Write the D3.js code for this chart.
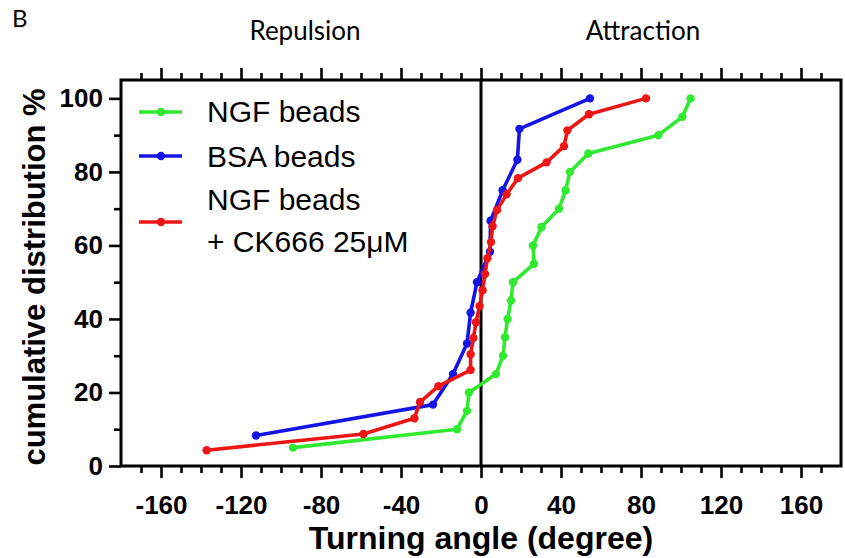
<!DOCTYPE html>
<html>
<head>
<meta charset="utf-8">
<script src="https://cdn.jsdelivr.net/npm/d3@7"></script>
<style>
    body { margin: 0; background: #fff; }
    svg { display: block; }
    .tick text { font-family: "Liberation Sans", Arial, sans-serif; font-weight: bold; font-size: 26px; fill: #000; }
</style>
</head>
<body>
<div id="chart"></div>
<script>
let width = 845;
let height = 558;
let margin = ({top: 80, right: 4, bottom: 92, left: 121});

// cumulative distribution (%) vs turning angle (degree)
let ngfAngle = [-94, -12, -7, -6, 7.5, 11, 12, 13.3, 15, 16, 26.5, 26, 30.3, 39, 42.3, 44.5, 53.7, 88.7, 100.7, 104.8];
let ngfPct = [5, 10, 15, 20, 25, 30, 35, 40, 45, 50, 55, 60, 65, 70, 75, 80, 85, 90, 95, 100];

let bsaAngle = [-112.5, -24, -14, -7, -5.2, -2, 4.5, 4.8, 10.8, 18.2, 19.2, 54.5];
let bsaPct = [8.3, 16.7, 25, 33.3, 41.7, 50, 58.3, 66.7, 75, 83.3, 91.7, 100];

let ckAngle = [-137.2, -58.8, -33.3, -30.5, -21.3, -5.2, -5.2, -3.8, -2.5, -0.7, 0.8, 2, 3.2, 5, 5.8, 8, 12.8, 18.5, 32.8, 41.5, 43.2, 54, 82.5];
let ckPct = [4.3, 8.7, 13, 17.4, 21.7, 26.1, 30.4, 34.8, 39.1, 43.5, 47.8, 52.2, 56.5, 60.9, 65.2, 69.6, 73.9, 78.3, 82.6, 87, 91.3, 95.7, 100];

let seriesNames = ["NGF beads", "BSA beads", "NGF beads\n+ CK666 25\u03bcM"];
let seriesColors = ["#2fea2f", "#1414e6", "#ee1515"];

let xMajor = [-160, -120, -80, -40, 0, 40, 80, 120, 160];
let xMinor = [-170, -150, -140, -130, -110, -100, -90, -70, -60, -50, -30, -20, -10, 10, 20, 30, 50, 60, 70, 90, 100, 110, 130, 140, 150, 170];
let yMajor = [0, 20, 40, 60, 80, 100];
let yMinor = [10, 30, 50, 70, 90];

let series = [
    {name: seriesNames[0], color: seriesColors[0], values: ngfAngle.map((a, i) => ({a: a, p: ngfPct[i]}))},
    {name: seriesNames[1], color: seriesColors[1], values: bsaAngle.map((a, i) => ({a: a, p: bsaPct[i]}))},
    {name: seriesNames[2], color: seriesColors[2], values: ckAngle.map((a, i) => ({a: a, p: ckPct[i]}))}
];

let x = d3.scaleLinear()
    .domain([-180, 180])
    .range([margin.left, width - margin.right]);
let y = d3.scaleLinear()
    .domain([0, 105])
    .range([height - margin.bottom, margin.top]);

let svg = d3.select("#chart")
    .append("svg")
    .attr("width", width)
    .attr("height", height);

// axes
let axisStyle = g => g
    .call(g => g.select(".domain").remove())
    .call(g => g.selectAll(".tick line").attr("stroke", "#000").attr("stroke-width", 2.6));

svg.append("g")
    .attr("transform", `translate(0,${y(0)})`)
    .call(d3.axisBottom(x).tickValues(xMajor).tickSize(12).tickPadding(18).tickFormat(d => String(d)))
    .call(axisStyle);
svg.append("g")
    .attr("transform", `translate(0,${y(0)})`)
    .call(d3.axisBottom(x).tickValues(xMinor).tickSize(7).tickFormat(""))
    .call(axisStyle);
svg.append("g")
    .attr("transform", `translate(0,${y(105)})`)
    .call(d3.axisTop(x).tickValues(xMajor).tickSize(12).tickFormat(""))
    .call(axisStyle);
svg.append("g")
    .attr("transform", `translate(0,${y(105)})`)
    .call(d3.axisTop(x).tickValues(xMinor).tickSize(7).tickFormat(""))
    .call(axisStyle);
svg.append("g")
    .attr("transform", `translate(${x(-180)},0)`)
    .call(d3.axisLeft(y).tickValues(yMajor).tickSize(12).tickPadding(6).tickFormat(d => String(d)))
    .call(axisStyle);
svg.append("g")
    .attr("transform", `translate(${x(-180)},0)`)
    .call(d3.axisLeft(y).tickValues(yMinor).tickSize(7).tickFormat(""))
    .call(axisStyle);

// frame and zero line
svg.append("rect")
    .attr("x", x(-180))
    .attr("y", y(105))
    .attr("width", x(180) - x(-180))
    .attr("height", y(0) - y(105))
    .attr("fill", "none")
    .attr("stroke", "#000")
    .attr("stroke-width", 3);
svg.append("line")
    .attr("x1", x(0)).attr("x2", x(0))
    .attr("y1", y(105)).attr("y2", y(0))
    .attr("stroke", "#000")
    .attr("stroke-width", 3);

// series
let line = d3.line().x(d => x(d.a)).y(d => y(d.p));

let sg = svg.append("g")
    .selectAll("g")
    .data(series)
    .join("g");
sg.append("path")
    .attr("d", d => line(d.values))
    .attr("fill", "none")
    .attr("stroke", d => d.color)
    .attr("stroke-width", 3.6)
    .attr("stroke-linejoin", "round");
sg.selectAll("circle")
    .data(d => d.values.map(v => ({a: v.a, p: v.p, color: d.color})))
    .join("circle")
    .attr("cx", d => x(d.a))
    .attr("cy", d => y(d.p))
    .attr("r", 4.2)
    .attr("fill", d => d.color);

// legend
let legendY = [112, 156, 222];
let legendTextY = [[122], [167], [210, 252]];
let legend = svg.append("g")
    .selectAll("g")
    .data(series)
    .join("g");
legend.append("line")
    .attr("x1", 139).attr("x2", 182)
    .attr("y1", (d, i) => legendY[i]).attr("y2", (d, i) => legendY[i])
    .attr("stroke", d => d.color)
    .attr("stroke-width", 3.6);
legend.append("circle")
    .attr("cx", 161)
    .attr("cy", (d, i) => legendY[i])
    .attr("r", 4.2)
    .attr("fill", d => d.color);
legend.append("text")
    .attr("font-family", "Liberation Sans, Arial, sans-serif")
    .attr("font-size", 30)
    .attr("fill", "#000")
    .each(function(d, i) {
        d3.select(this).selectAll("tspan")
            .data(d.name.split("\n"))
            .join("tspan")
            .attr("x", 207)
            .attr("y", (t, j) => legendTextY[i][j])
            .text(t => t);
    });

// titles
svg.append("text")
    .attr("x", (x(-180) + x(180)) / 2)
    .attr("y", 549)
    .attr("text-anchor", "middle")
    .attr("font-family", "Liberation Sans, Arial, sans-serif")
    .attr("font-weight", "bold")
    .attr("font-size", 32)
    .text("Turning angle (degree)");
svg.append("text")
    .attr("transform", `translate(45,${(y(0) + y(105)) / 2 + 4}) rotate(-90)`)
    .attr("text-anchor", "middle")
    .attr("font-family", "Liberation Sans, Arial, sans-serif")
    .attr("font-weight", "bold")
    .attr("font-size", 31)
    .text("cumulative distribution %");

svg.append("text")
    .attr("x", 12)
    .attr("y", 27)
    .attr("font-family", "Lato, Open Sans, sans-serif")
    .attr("font-size", 24)
    .text("B");
svg.append("text")
    .attr("x", 305)
    .attr("y", 40)
    .attr("text-anchor", "middle")
    .attr("font-family", "Lato, Open Sans, sans-serif")
    .attr("font-size", 26)
    .text("Repulsion");
svg.append("text")
    .attr("x", 643)
    .attr("y", 40)
    .attr("text-anchor", "middle")
    .attr("font-family", "Lato, Open Sans, sans-serif")
    .attr("font-size", 26)
    .text("Attraction");
</script>
</body>
</html>
